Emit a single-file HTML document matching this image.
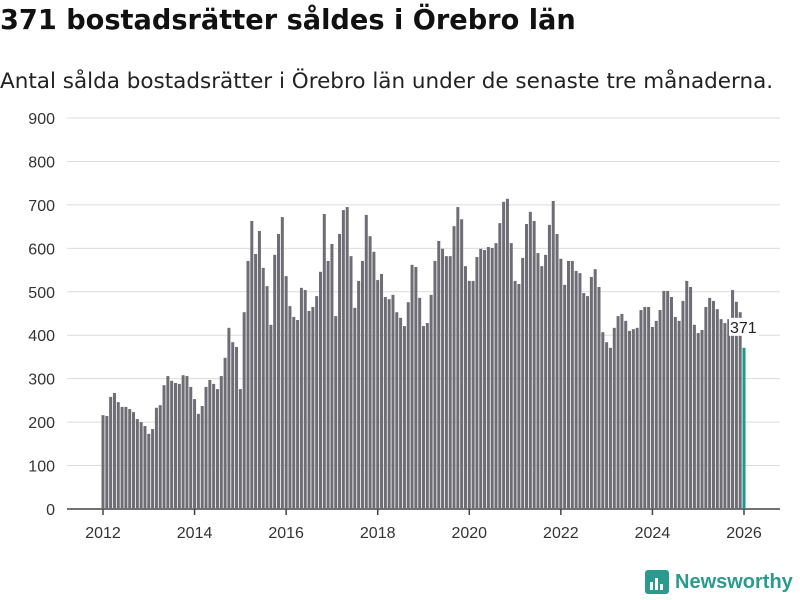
<!DOCTYPE html>
<html><head><meta charset="utf-8"><style>
body{margin:0;width:800px;height:600px;background:#fff;font-family:"Liberation Sans",sans-serif;overflow:hidden}
#title{position:absolute;left:0;top:5px;font-family:"DejaVu Sans",sans-serif;font-size:27.2px;font-weight:bold;color:#111;white-space:nowrap}
#sub{position:absolute;left:0;top:69px;font-family:"DejaVu Sans",sans-serif;font-size:21.5px;color:#222;white-space:nowrap}
#logo{position:absolute;left:645px;top:570px;display:flex;align-items:center;gap:6px;color:#2a9a8e;font-size:20px;font-weight:bold}
</style></head><body>
<div id="title">371 bostadsrätter såldes i Örebro län</div>
<div id="sub">Antal sålda bostadsrätter i Örebro län under de senaste tre månaderna.</div>
<svg id="chart" width="800" height="600" style="position:absolute;left:0;top:0"></svg>
<div id="logo"><svg width="24" height="24"><rect x="0" y="0" width="24" height="24" rx="3" fill="#2a9a8e"/><rect x="5" y="12" width="3" height="8" fill="#fff"/><rect x="10" y="8" width="3" height="12" fill="#fff"/><rect x="15" y="14" width="3" height="6" fill="#fff"/></svg><span>Newsworthy</span></div>
<script>
const startYear = 2012;
const values = [216,214,258,267,246,235,235,230,223,207,200,191,
173,184,233,239,285,306,295,290,288,308,306,281,
253,219,237,281,297,288,276,306,348,417,384,373,
276,453,571,663,587,640,555,513,424,585,633,672,
536,467,442,435,509,504,456,465,490,546,679,571,
610,444,633,688,695,582,463,525,571,677,628,592,
527,541,488,483,493,453,440,421,476,562,557,486,
421,428,493,571,617,599,582,582,651,695,667,559,
525,525,580,599,596,603,601,612,658,707,714,612,
525,518,578,656,684,663,589,559,585,654,709,633,
576,516,571,571,548,543,497,490,534,552,511,407,
384,371,417,444,449,433,410,414,417,458,465,465,
419,433,458,502,502,488,442,433,479,525,511,424,
405,412,465,486,479,460,437,428,437,504,477,453,
371];
const yTicks = [0,100,200,300,400,500,600,700,800,900];
const xTickYears = [2012,2014,2016,2018,2020,2022,2024,2026];
const NS='http://www.w3.org/2000/svg';
const svg=document.getElementById('chart');
const y0=509, pxPer=391/900;
const yS=v=>y0-v*pxPer;
const x0=103, pxMonth=641/168;
const xS=i=>x0+i*pxMonth;
function mk(t,a){const e=document.createElementNS(NS,t);for(const k in a)e.setAttribute(k,a[k]);svg.appendChild(e);return e;}
yTicks.forEach(v=>{
  const g=mk('line',{x1:67,x2:780,y1:yS(v),y2:yS(v),stroke:v===0?'#444':'#dcdcdc','stroke-width':v===0?1.5:1});
  
  
  const t=mk('text',{x:55,y:yS(v)+6,'text-anchor':'end','font-size':16,fill:'#333','font-family':'Liberation Sans, sans-serif'});
  t.textContent=v;
  
  
});
xTickYears.forEach(yr=>{
  const i=(yr-startYear)*12;
  const l=mk('line',{x1:xS(i),x2:xS(i),y1:509,y2:515,stroke:'#444','stroke-width':1.5});
  
  
  const t=mk('text',{x:xS(i),y:538,'text-anchor':'middle','font-size':16,fill:'#333','font-family':'Liberation Sans, sans-serif'});
  t.textContent=yr;
  
  
});
values.forEach((v,i)=>{
  const last=i===values.length-1;
  const r=mk('rect',{x:xS(i)-1.5,y:yS(v),width:3,height:y0-yS(v),fill:last?'#1a9a8f':'#6e6d75'});
  
  
});
const li=values.length-1;
const bg=mk('rect',{x:xS(li)-15,y:yS(values[li])-30,width:30,height:18,fill:'#fff'});


const lab=mk('text',{x:xS(li)-14,y:yS(values[li])-15,'font-size':16,fill:'#222','font-family':'Liberation Sans, sans-serif'});
lab.textContent=values[li];


</script>
</body></html>
